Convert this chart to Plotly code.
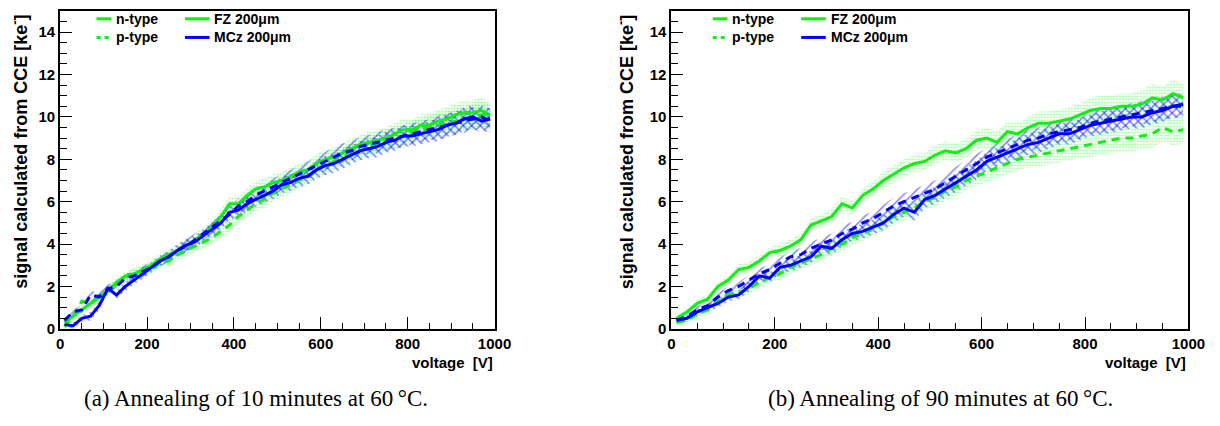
import plotly.graph_objects as go

# ---------------- data ----------------
volts = [10, 30, 50, 70, 90, 110, 130, 150, 170, 190,
         210, 230, 250, 270, 290, 310, 330, 350, 370, 390,
         410, 430, 450, 470, 490, 510, 530, 550, 570, 590,
         610, 630, 650, 670, 690, 710, 730, 750, 770, 790,
         810, 830, 850, 870, 890, 910, 930, 950, 970, 990]

# (a) 10 minutes annealing
fz_n_10 = [0.3, 0.6, 0.9, 1.2, 1.5, 1.8, 2.2, 2.5, 2.6, 2.8,
           3.0, 3.3, 3.5, 3.7, 3.9, 4.2, 4.5, 4.8, 5.3, 5.9,
           5.9, 6.3, 6.6, 6.7, 6.9, 7.0, 7.2, 7.4, 7.5, 7.8,
           8.0, 8.1, 8.3, 8.5, 8.7, 8.8, 8.9, 9.0, 9.2, 9.4,
           9.4, 9.6, 9.6, 9.8, 9.9, 10.1, 10.2, 10.2, 10.3, 10.1]
fz_p_10 = [0.1, 0.6, 1.3, 1.2, 1.5, 1.8, 2.1, 2.4, 2.6, 2.7,
           2.8, 3.1, 3.2, 3.5, 3.7, 3.9, 4.1, 4.3, 4.6, 4.9,
           5.3, 5.6, 5.9, 6.1, 6.4, 6.6, 6.8, 7.0, 7.2, 7.5,
           7.7, 7.9, 8.1, 8.3, 8.4, 8.6, 8.7, 8.9, 9.0, 9.1,
           9.3, 9.4, 9.5, 9.6, 9.7, 9.8, 9.9, 10.0, 10.1, 10.0]
mcz_n_10 = [0.2, 0.15, 0.5, 0.6, 1.1, 1.9, 1.6, 2.0, 2.3, 2.6,
            2.9, 3.2, 3.4, 3.7, 3.95, 4.1, 4.4, 4.7, 5.0, 5.5,
            5.6, 5.9, 6.1, 6.3, 6.5, 6.8, 6.9, 7.1, 7.2, 7.5,
            7.7, 7.8, 8.0, 8.2, 8.4, 8.5, 8.6, 8.8, 8.9, 9.1,
            9.1, 9.2, 9.3, 9.4, 9.6, 9.7, 9.9, 10.0, 9.8, 9.9]
mcz_p_10 = [0.4, 0.8, 0.9, 1.6, 1.5, 1.9, 2.0, 2.4, 2.5, 2.7,
            2.9, 3.2, 3.4, 3.7, 3.9, 4.2, 4.5, 4.8, 5.1, 5.4,
            5.8, 6.0, 6.3, 6.5, 6.7, 6.9, 7.1, 7.3, 7.5, 7.7,
            7.9, 8.1, 8.3, 8.4, 8.6, 8.7, 8.8, 8.9, 9.0, 9.1,
            9.2, 9.3, 9.4, 9.5, 9.6, 9.7, 9.8, 9.9, 10.0, 9.8]
err_fz_10 = [0.15, 0.15, 0.15, 0.2, 0.2, 0.2, 0.2, 0.2, 0.25, 0.25,
             0.25, 0.25, 0.25, 0.3, 0.3, 0.3, 0.3, 0.3, 0.35, 0.35,
             0.35, 0.35, 0.35, 0.4, 0.4, 0.4, 0.4, 0.4, 0.4, 0.45,
             0.45, 0.45, 0.45, 0.45, 0.45, 0.5, 0.5, 0.5, 0.5, 0.5,
             0.5, 0.5, 0.55, 0.55, 0.55, 0.55, 0.55, 0.6, 0.6, 0.6]
err_mcz_10 = [0.15, 0.15, 0.15, 0.2, 0.2, 0.2, 0.2, 0.2, 0.2, 0.25,
              0.25, 0.25, 0.25, 0.3, 0.3, 0.3, 0.3, 0.3, 0.3, 0.35,
              0.35, 0.35, 0.35, 0.35, 0.4, 0.4, 0.4, 0.4, 0.4, 0.4,
              0.45, 0.45, 0.45, 0.45, 0.45, 0.45, 0.5, 0.5, 0.5, 0.5,
              0.5, 0.5, 0.5, 0.55, 0.55, 0.55, 0.55, 0.55, 0.55, 0.55]

# (b) 90 minutes annealing
fz_n_90 = [0.5, 0.8, 1.2, 1.4, 2.0, 2.3, 2.8, 2.9, 3.2, 3.6,
           3.7, 3.9, 4.2, 4.9, 5.1, 5.3, 5.9, 5.7, 6.3, 6.6,
           7.0, 7.3, 7.6, 7.8, 7.9, 8.2, 8.4, 8.3, 8.5, 8.9,
           9.0, 8.8, 9.3, 9.2, 9.5, 9.7, 9.7, 9.8, 9.9, 10.1,
           10.3, 10.4, 10.4, 10.5, 10.5, 10.6, 10.9, 10.8, 11.1, 10.9]
fz_p_90 = [0.3, 0.4, 0.7, 0.9, 1.3, 1.6, 1.7, 1.9, 2.2, 2.4,
           2.6, 2.9, 3.1, 3.3, 3.5, 3.8, 4.0, 4.3, 4.5, 4.7,
           5.0, 5.3, 5.5, 5.7, 6.0, 6.2, 6.5, 6.7, 7.0, 7.2,
           7.4, 7.6, 7.8, 8.0, 8.1, 8.2, 8.3, 8.4, 8.5, 8.6,
           8.7, 8.8, 8.9, 9.0, 9.0, 9.1, 9.2, 9.5, 9.3, 9.4]
mcz_n_90 = [0.4, 0.5, 0.8, 1.0, 1.2, 1.5, 1.6, 2.0, 2.5, 2.4,
            2.9, 3.0, 3.2, 3.4, 3.9, 3.8, 4.2, 4.5, 4.6, 4.8,
            5.0, 5.4, 5.7, 5.5, 6.1, 6.3, 6.6, 6.9, 7.2, 7.5,
            7.9, 8.1, 8.3, 8.5, 8.7, 8.8, 9.0, 9.2, 9.2, 9.4,
            9.6, 9.7, 9.8, 9.9, 10.0, 10.0, 10.2, 10.3, 10.5, 10.6]
mcz_p_90 = [0.4, 0.6, 0.9, 1.1, 1.5, 1.8, 2.0, 2.3, 2.6, 2.8,
            3.1, 3.4, 3.5, 3.8, 4.0, 4.2, 4.5, 4.7, 5.0, 5.2,
            5.5, 5.8, 6.0, 6.2, 6.4, 6.6, 6.9, 7.2, 7.5, 7.8,
            8.1, 8.3, 8.5, 8.7, 8.9, 9.0, 9.2, 9.3, 9.4, 9.5,
            9.7, 9.8, 9.9, 10.0, 10.1, 10.2, 10.3, 10.4, 10.5, 10.5]
err_fz_90 = [0.15, 0.15, 0.2, 0.2, 0.2, 0.2, 0.25, 0.25, 0.25, 0.25,
             0.3, 0.3, 0.3, 0.3, 0.3, 0.35, 0.35, 0.35, 0.35, 0.35,
             0.4, 0.4, 0.4, 0.4, 0.4, 0.45, 0.45, 0.45, 0.45, 0.45,
             0.5, 0.5, 0.5, 0.5, 0.5, 0.55, 0.55, 0.55, 0.55, 0.55,
             0.6, 0.6, 0.6, 0.6, 0.6, 0.65, 0.65, 0.65, 0.65, 0.65]
err_mcz_90 = [0.15, 0.15, 0.15, 0.2, 0.2, 0.2, 0.2, 0.25, 0.25, 0.25,
              0.25, 0.3, 0.3, 0.3, 0.3, 0.3, 0.35, 0.35, 0.35, 0.35,
              0.35, 0.4, 0.4, 0.4, 0.4, 0.4, 0.4, 0.45, 0.45, 0.45,
              0.45, 0.45, 0.45, 0.5, 0.5, 0.5, 0.5, 0.5, 0.5, 0.5,
              0.5, 0.55, 0.55, 0.55, 0.55, 0.55, 0.55, 0.55, 0.55, 0.55]

captions = ["(a) Annealing of 10 minutes at 60\u2009\u00b0C.",
            "(b) Annealing of 90 minutes at 60\u2009\u00b0C."]
ytitle = "signal calculated from CCE [ke<sup>-</sup>]"
xtitle = "voltage  [V]"
legend_types = ["n-type", "p-type"]
legend_materials = ["FZ 200\u03bcm", "MCz 200\u03bcm"]

# ---------------- style ----------------
W, H = 1220, 426
GREEN = "#11ee11"
BLUE = "#0000ff"
SANS = "Liberation Sans"
SERIF = "Liberation Serif"

# plot frame pixel positions
frames = [dict(x0=49, x1=491, ytx=8, cap=248, leg=0),
          dict(x0=671, x1=1197, ytx=625, cap=945, leg=627)]
Y_TOP, Y_BOT = 3, 327


def px(x):
    return x / W


def py(y):
    return 1 - y / H


fig = go.Figure()


def band(x, y, e, xa, ya, color, shape, size, solidity):
    xs = list(x) + list(x)[::-1]
    up = [a + b for a, b in zip(y, e)]
    lo = [a - b for a, b in zip(y, e)]
    ys = up + lo[::-1]
    fig.add_trace(go.Scatter(
        x=xs, y=ys, xaxis=xa, yaxis=ya, mode="lines", fill="toself",
        line=dict(width=0, color="rgba(0,0,0,0)"),
        fillcolor="rgba(0,0,0,0)",
        fillpattern=dict(shape=shape, fgcolor=color, bgcolor="rgba(0,0,0,0)",
                         size=size, solidity=solidity),
        hoverinfo="skip", showlegend=False))


def line(x, y, xa, ya, color, dash):
    fig.add_trace(go.Scatter(
        x=x, y=y, xaxis=xa, yaxis=ya, mode="lines",
        line=dict(color=color, width=3, dash=dash),
        showlegend=False))


panels = [
    ("x", "y", fz_n_10, fz_p_10, mcz_n_10, mcz_p_10, err_fz_10, err_mcz_10),
    ("x2", "y2", fz_n_90, fz_p_90, mcz_n_90, mcz_p_90, err_fz_90, err_mcz_90),
]

for xa, ya, fzn, fzp, mczn, mczp, efz, emcz in panels:
    band(volts, fzn, efz, xa, ya, "#44ff44", ".", 3, 0.4)
    band(volts, fzp, efz, xa, ya, "#44ff44", ".", 3, 0.4)
    band(volts, mczn, emcz, xa, ya, BLUE, "\\", 6, 0.25)
    band(volts, mczp, emcz, xa, ya, BLUE, "/", 6, 0.25)
    line(volts, fzp, xa, ya, GREEN, "8px,6px")
    line(volts, fzn, xa, ya, GREEN, "solid")
    line(volts, mczp, xa, ya, BLUE, "8px,6px")
    line(volts, mczn, xa, ya, BLUE, "solid")

tickfont = dict(family=SANS, size=15, color="black", weight="bold")
xcommon = dict(range=[0, 1000], showline=True, linecolor="black", linewidth=2,
               mirror=True, ticks="inside", ticklen=12, tickwidth=1.2,
               tickcolor="black", tick0=0, dtick=200,
               minor=dict(ticks="inside", ticklen=6, dtick=50, tick0=0,
                          tickcolor="black", tickwidth=1),
               showgrid=False, zeroline=False, tickfont=tickfont)
ycommon = dict(range=[0, 15], showline=True, linecolor="black", linewidth=2,
               mirror=True, ticks="inside", ticklen=12, tickwidth=1.2,
               tickcolor="black", tick0=0, dtick=2,
               minor=dict(ticks="inside", ticklen=7, dtick=0.5, tick0=0,
                          tickcolor="black", tickwidth=1),
               showgrid=False, zeroline=False, tickfont=tickfont)

ydom = [py(Y_BOT), py(Y_TOP)]
fig.update_layout(
    width=W, height=H, margin=dict(l=0, r=0, t=0, b=0),
    paper_bgcolor="white", plot_bgcolor="white", showlegend=False,
    xaxis=dict(domain=[px(frames[0]["x0"]), px(frames[0]["x1"])], anchor="y", **xcommon),
    yaxis=dict(domain=ydom, anchor="x", **ycommon),
    xaxis2=dict(domain=[px(frames[1]["x0"]), px(frames[1]["x1"])], anchor="y2", **xcommon),
    yaxis2=dict(domain=ydom, anchor="x2", **ycommon),
)

annotations = []
shapes = []
for i, fr in enumerate(frames):
    off = fr["leg"]
    # y title
    annotations.append(dict(x=px(fr["ytx"]), y=py(Y_TOP + 2), xref="paper", yref="paper",
                            text=ytitle, textangle=-90, showarrow=False,
                            xanchor="center", yanchor="top",
                            font=dict(family=SANS, size=18, color="black", weight="bold")))
    # x title
    annotations.append(dict(x=px(fr["x1"]), y=py(361), xref="paper", yref="paper",
                            text=xtitle, showarrow=False, xanchor="right", yanchor="middle",
                            font=dict(family=SANS, size=15, color="black", weight="bold")))
    # caption
    annotations.append(dict(x=px(fr["cap"]), y=py(398), xref="paper", yref="paper",
                            text=captions[i], showarrow=False, xanchor="center", yanchor="middle",
                            font=dict(family=SERIF, size=23, color="black")))
    # legend
    lx = 86 + off
    for j, (lab, dash) in enumerate(zip(legend_types, ["solid", "dash"])):
        yy = 11 + 19 * j
        shapes.append(dict(type="line", xref="paper", yref="paper",
                           x0=px(lx), x1=px(lx + 15), y0=py(yy), y1=py(yy),
                           line=dict(color=GREEN, width=3, dash=("4px,4px" if dash == "dash" else "solid"))))
        annotations.append(dict(x=px(lx + 18), y=py(yy), xref="paper", yref="paper",
                                text=lab, showarrow=False, xanchor="left", yanchor="middle",
                                font=dict(family=SANS, size=14, color="black", weight="bold")))
    mx = 176 + off
    for j, (lab, col) in enumerate(zip(legend_materials, [GREEN, BLUE])):
        yy = 11 + 19 * j
        shapes.append(dict(type="line", xref="paper", yref="paper",
                           x0=px(mx), x1=px(mx + 25), y0=py(yy), y1=py(yy),
                           line=dict(color=col, width=3)))
        annotations.append(dict(x=px(mx + 28), y=py(yy), xref="paper", yref="paper",
                                text=lab, showarrow=False, xanchor="left", yanchor="middle",
                                font=dict(family=SANS, size=14, color="black", weight="bold")))

fig.update_layout(annotations=annotations, shapes=shapes)
fig.write_html("out.html")
